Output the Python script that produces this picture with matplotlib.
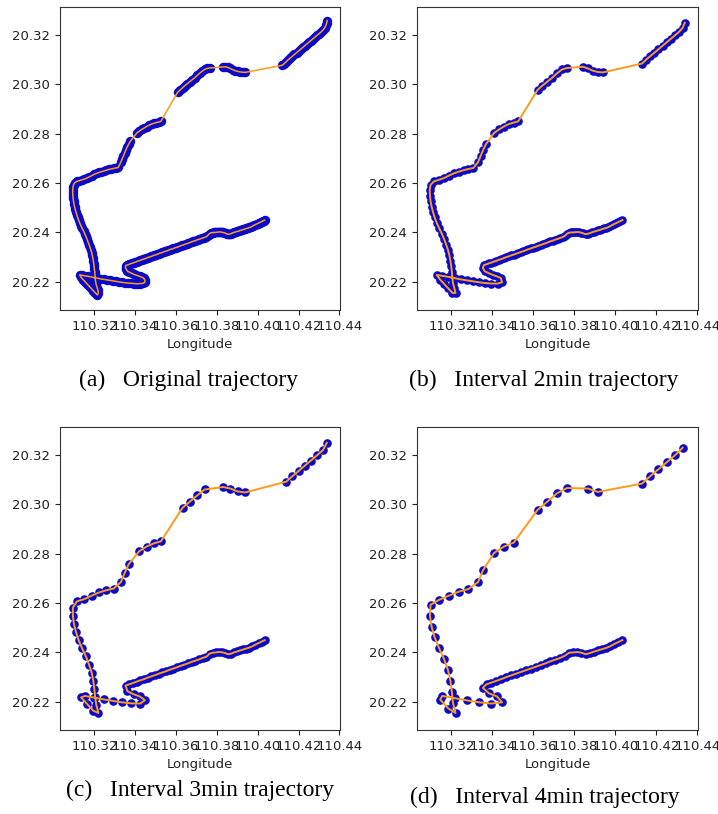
import matplotlib
matplotlib.use("Agg")
import matplotlib.pyplot as plt
from matplotlib.ticker import FormatStrFormatter

lower_leg = [
    (110.4034, 20.2450), (110.4029, 20.2448), (110.4024, 20.2446), (110.4019, 20.2444),
    (110.4014, 20.2442), (110.4009, 20.2440), (110.4004, 20.2438), (110.3999, 20.2436),
    (110.3994, 20.2434), (110.3989, 20.2432), (110.3984, 20.2430), (110.3979, 20.2428),
    (110.3974, 20.2425), (110.3969, 20.2423), (110.3964, 20.2421), (110.3959, 20.2420),
    (110.3954, 20.2418), (110.3949, 20.2417), (110.3944, 20.2416), (110.3939, 20.2414),
    (110.3934, 20.2413), (110.3929, 20.2412), (110.3924, 20.2410), (110.3919, 20.2409),
    (110.3914, 20.2408), (110.3909, 20.2406), (110.3904, 20.2405), (110.3899, 20.2404),
    (110.3894, 20.2403), (110.3889, 20.2401), (110.3884, 20.2400), (110.3879, 20.2399),
    (110.3874, 20.2397), (110.3869, 20.2395), (110.3864, 20.2394), (110.3859, 20.2393),
    (110.3854, 20.2393), (110.3849, 20.2394), (110.3844, 20.2396), (110.3839, 20.2398),
    (110.3834, 20.2399), (110.3829, 20.2400), (110.3824, 20.2401), (110.3819, 20.2402),
    (110.3814, 20.2402), (110.3809, 20.2402), (110.3804, 20.2401), (110.3799, 20.2401),
    (110.3794, 20.2400), (110.3789, 20.2400), (110.3784, 20.2400), (110.3779, 20.2399),
    (110.3774, 20.2399), (110.3769, 20.2398), (110.3764, 20.2395), (110.3759, 20.2391),
    (110.3754, 20.2387), (110.3749, 20.2383), (110.3743, 20.2381), (110.3737, 20.2379),
    (110.3731, 20.2378), (110.3725, 20.2376), (110.3719, 20.2374), (110.3713, 20.2372),
    (110.3707, 20.2371), (110.3701, 20.2369), (110.3695, 20.2367), (110.3689, 20.2365),
    (110.3683, 20.2364), (110.3677, 20.2362), (110.3671, 20.2360), (110.3665, 20.2358),
    (110.3659, 20.2356), (110.3653, 20.2355), (110.3647, 20.2353), (110.3641, 20.2351),
    (110.3635, 20.2349), (110.3629, 20.2348), (110.3623, 20.2346), (110.3617, 20.2344),
    (110.3611, 20.2342), (110.3605, 20.2340), (110.3599, 20.2339), (110.3593, 20.2337),
    (110.3587, 20.2335), (110.3581, 20.2333), (110.3575, 20.2332), (110.3569, 20.2330),
    (110.3563, 20.2328), (110.3557, 20.2326), (110.3551, 20.2324), (110.3545, 20.2323),
    (110.3539, 20.2321), (110.3533, 20.2319), (110.3527, 20.2317), (110.3521, 20.2316),
    (110.3515, 20.2314), (110.3509, 20.2312), (110.3503, 20.2310), (110.3497, 20.2308),
    (110.3491, 20.2307), (110.3485, 20.2305), (110.3479, 20.2303), (110.3473, 20.2301),
    (110.3467, 20.2300), (110.3461, 20.2298), (110.3455, 20.2296), (110.3449, 20.2294),
    (110.3443, 20.2292), (110.3437, 20.2291), (110.3431, 20.2289), (110.3425, 20.2287),
    (110.3419, 20.2285), (110.3413, 20.2284), (110.3407, 20.2282), (110.3401, 20.2280),
    (110.3395, 20.2278), (110.3389, 20.2276), (110.3383, 20.2275), (110.3377, 20.2273),
    (110.3371, 20.2271), (110.3365, 20.2269), (110.3359, 20.2268), (110.3353, 20.2266),
]

bottom_loop = [
    (110.3353, 20.2257), (110.3357, 20.2250), (110.3362, 20.2243), (110.3372, 20.2239),
    (110.3382, 20.2235), (110.3392, 20.2231), (110.3402, 20.2228), (110.3412, 20.2225),
    (110.3422, 20.2222), (110.3432, 20.2219), (110.3441, 20.2215), (110.3448, 20.2207),
    (110.3447, 20.2198), (110.3438, 20.2194), (110.3425, 20.2193), (110.3410, 20.2192),
    (110.3395, 20.2193), (110.3380, 20.2194), (110.3365, 20.2195), (110.3350, 20.2196),
    (110.3335, 20.2198), (110.3320, 20.2200), (110.3305, 20.2202), (110.3290, 20.2204),
    (110.3275, 20.2206), (110.3260, 20.2208), (110.3245, 20.2210), (110.3230, 20.2212),
    (110.3215, 20.2215), (110.3200, 20.2217), (110.3185, 20.2220), (110.3170, 20.2222),
    (110.3155, 20.2224), (110.3140, 20.2226), (110.3128, 20.2228), (110.3135, 20.2218),
    (110.3145, 20.2209), (110.3155, 20.2200), (110.3165, 20.2191), (110.3175, 20.2182),
    (110.3185, 20.2173), (110.3195, 20.2164), (110.3205, 20.2155), (110.3215, 20.2147),
]

west_leg = [
    (110.3220, 20.2155), (110.3218, 20.2165), (110.3214, 20.2175), (110.3210, 20.2186),
    (110.3207, 20.2197), (110.3205, 20.2208), (110.3204, 20.2219), (110.3203, 20.2230),
    (110.3202, 20.2241), (110.3200, 20.2252), (110.3199, 20.2263), (110.3197, 20.2274),
    (110.3195, 20.2285), (110.3193, 20.2296), (110.3190, 20.2307), (110.3187, 20.2318),
    (110.3183, 20.2329), (110.3179, 20.2340), (110.3174, 20.2351), (110.3169, 20.2362),
    (110.3164, 20.2373), (110.3159, 20.2384), (110.3153, 20.2395), (110.3147, 20.2406),
    (110.3140, 20.2417), (110.3134, 20.2428), (110.3128, 20.2439), (110.3123, 20.2450),
    (110.3118, 20.2461), (110.3114, 20.2472), (110.3110, 20.2483), (110.3106, 20.2494),
    (110.3103, 20.2505), (110.3100, 20.2516), (110.3098, 20.2527), (110.3096, 20.2538),
    (110.3095, 20.2549), (110.3094, 20.2560), (110.3094, 20.2571), (110.3095, 20.2582),
    (110.3098, 20.2593), (110.3105, 20.2602), (110.3115, 20.2607), (110.3127, 20.2610),
    (110.3139, 20.2613), (110.3151, 20.2616), (110.3163, 20.2620), (110.3175, 20.2625),
    (110.3187, 20.2630), (110.3199, 20.2635), (110.3211, 20.2639), (110.3223, 20.2643),
    (110.3235, 20.2646), (110.3247, 20.2649), (110.3259, 20.2652), (110.3271, 20.2655),
    (110.3283, 20.2657), (110.3295, 20.2659), (110.3307, 20.2661), (110.3317, 20.2663),
]

mid_rise = [
    (110.3330, 20.2685), (110.3336, 20.2697), (110.3342, 20.2709), (110.3348, 20.2721),
    (110.3354, 20.2733), (110.3360, 20.2745), (110.3368, 20.2757), (110.3376, 20.2769),
    (110.3408, 20.2803), (110.3420, 20.2810), (110.3432, 20.2817), (110.3444, 20.2823),
    (110.3456, 20.2829), (110.3468, 20.2834), (110.3480, 20.2839), (110.3492, 20.2842),
    (110.3504, 20.2845), (110.3516, 20.2847), (110.3526, 20.2850),
]

north_leg = [
    (110.3608, 20.2968), (110.3620, 20.2977), (110.3632, 20.2986), (110.3644, 20.2995),
    (110.3656, 20.3003), (110.3668, 20.3011), (110.3680, 20.3019), (110.3692, 20.3027),
    (110.3704, 20.3036), (110.3716, 20.3045), (110.3728, 20.3053), (110.3740, 20.3060),
    (110.3752, 20.3064), (110.3764, 20.3066), (110.3830, 20.3070), (110.3842, 20.3071),
    (110.3854, 20.3068), (110.3866, 20.3064), (110.3878, 20.3059), (110.3890, 20.3055),
    (110.3902, 20.3052), (110.3914, 20.3050), (110.3926, 20.3049), (110.3938, 20.3048),
]

east_leg = [
    (110.4120, 20.3077), (110.4130, 20.3084), (110.4140, 20.3092), (110.4150, 20.3100),
    (110.4160, 20.3107), (110.4170, 20.3114), (110.4180, 20.3121), (110.4190, 20.3128),
    (110.4200, 20.3135), (110.4210, 20.3142), (110.4220, 20.3149), (110.4230, 20.3156),
    (110.4240, 20.3163), (110.4250, 20.3170), (110.4260, 20.3177), (110.4270, 20.3184),
    (110.4280, 20.3191), (110.4290, 20.3198), (110.4300, 20.3205), (110.4310, 20.3212),
    (110.4320, 20.3220), (110.4328, 20.3229), (110.4334, 20.3239), (110.4338, 20.3249),
    (110.4340, 20.3258),
]

track = lower_leg + bottom_loop + west_leg + mid_rise + north_leg + east_leg
lon = [p[0] for p in track]
lat = [p[1] for p in track]

steps = [1, 2, 3, 4]
captions = ["(a)   Original trajectory", "(b)   Interval 2min trajectory",
            "(c)   Interval 3min trajectory", "(d)   Interval 4min trajectory"]
xticks = [110.32, 110.34, 110.36, 110.38, 110.40, 110.42, 110.44]
yticks = [20.22, 20.24, 20.26, 20.28, 20.30, 20.32]

fig = plt.figure(figsize=(7.18, 8.14), dpi=100)

# axes boxes (left, bottom, width, height) and caption centres
boxes = [(0.0836, 0.6192, 0.3900, 0.3722), (0.5808, 0.6192, 0.3914, 0.3722),
         (0.0836, 0.1032, 0.3900, 0.3722), (0.5808, 0.1032, 0.3914, 0.3722)]
cap_pos = [(0.262, 0.533), (0.757, 0.533), (0.278, 0.029), (0.759, 0.020)]

for i in range(4):
    ax = fig.add_axes(boxes[i])
    k = steps[i]
    ax.plot(lon[::k], lat[::k], "o", color="#0a0ac8", markersize=6.8 if k == 1 else 6.2,
            markeredgewidth=0, zorder=2)
    ax.plot(lon[::k], lat[::k], "-", color="#ff9a1a",
            linewidth=1.1 if k == 1 else 1.4, zorder=3)
    ax.set_xlim(110.3032, 110.4403)
    ax.set_ylim(20.2086, 20.3313)
    ax.set_xticks(xticks)
    ax.set_yticks(yticks)
    ax.xaxis.set_major_formatter(FormatStrFormatter("%.2f"))
    ax.yaxis.set_major_formatter(FormatStrFormatter("%.2f"))
    ax.tick_params(labelsize=9.5, colors="#222222")
    for s in ax.spines.values():
        s.set_color("#333333")
    ax.set_xlabel("Longitude", fontsize=9.5, color="#222222")
    fig.text(cap_pos[i][0], cap_pos[i][1], captions[i], ha="center", va="center",
             fontsize=17, family="Liberation Serif")

fig.savefig("out.png", dpi=100)
